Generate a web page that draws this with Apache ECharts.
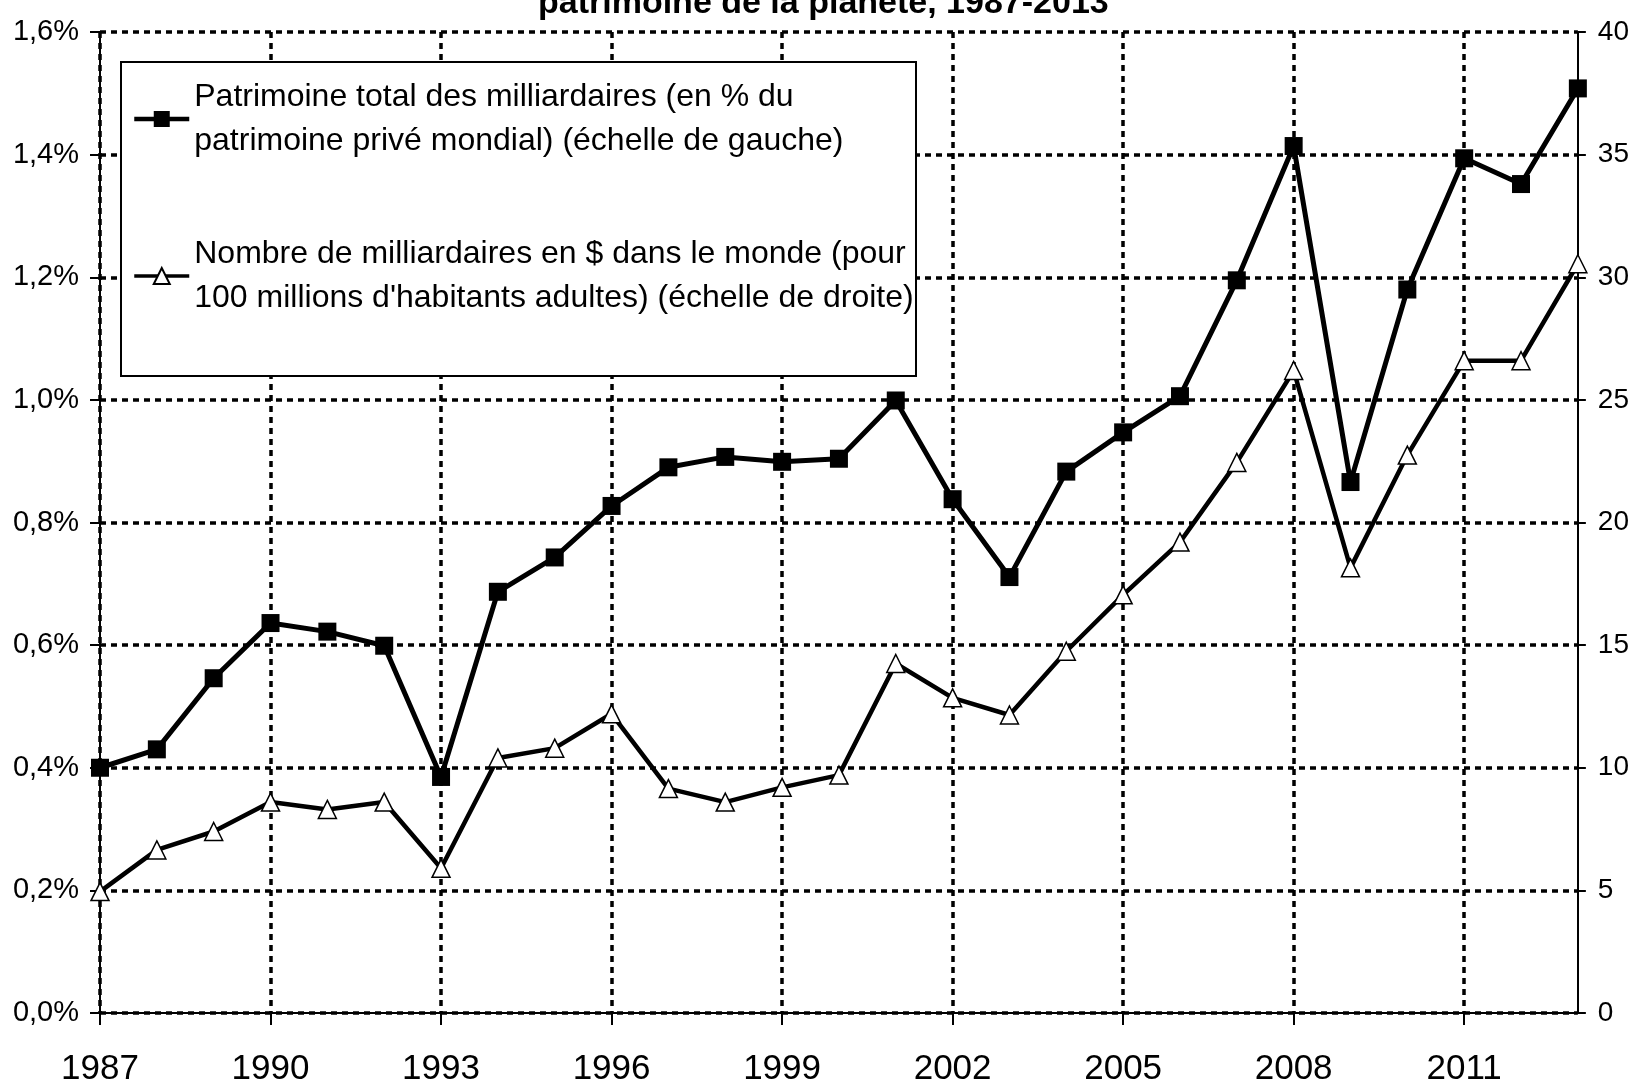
<!DOCTYPE html>
<html>
<head>
<meta charset="utf-8">
<script src="https://cdn.jsdelivr.net/npm/echarts@6/dist/echarts.min.js"></script>
<style>
html,body{margin:0;padding:0;background:#fff;}
#chart{width:1632px;height:1087px;}
</style>
</head>
<body>
<div id="chart"></div>
<script>
const FONT = "'Liberation Sans', Arial, sans-serif";

const titleText = 'patrimoine de la planète, 1987-2013';
const years = ['1987','1988','1989','1990','1991','1992','1993','1994','1995','1996','1997','1998','1999','2000',
  '2001','2002','2003','2004','2005','2006','2007','2008','2009','2010','2011','2012','2013'];
const wealthShareName = 'Patrimoine total des milliardaires (en % du\npatrimoine privé mondial) (échelle de gauche)';
const billionairesName = "Nombre de milliardaires en $ dans le monde (pour\n100 millions d'habitants adultes) (échelle de droite)";
// % of world private wealth (left axis)
const wealthShare = [0.40, 0.43, 0.546, 0.636, 0.622, 0.599, 0.385, 0.687, 0.743, 0.827, 0.890, 0.907, 0.899, 0.904,
  0.999, 0.838, 0.711, 0.883, 0.947, 1.006, 1.195, 1.414, 0.866, 1.180, 1.394, 1.352, 1.508];
// billionaires per 100 million adults (right axis)
const billionaires = [4.95, 6.65, 7.4, 8.6, 8.3, 8.6, 5.9, 10.4, 10.8, 12.2, 9.15, 8.6, 9.2, 9.7,
  14.25, 12.85, 12.15, 14.75, 17.05, 19.2, 22.45, 26.2, 18.15, 22.75, 26.6, 26.6, 30.55];
const leftTicks = {min: 0, max: 1.6, interval: 0.2};
const rightTicks = {min: 0, max: 40, interval: 5};

const chart = echarts.init(document.getElementById('chart'), null, {renderer: 'canvas'});

const gridDash = {color: '#000', width: 3.5, type: [6, 5]};

chart.setOption({
  backgroundColor: '#fff',
  animation: false,
  title: {
    text: titleText,
    left: 538,
    top: -13,
    padding: 0,
    textStyle: {fontFamily: FONT, fontWeight: 'bold', fontSize: 34, color: '#000'}
  },
  graphic: [{
    type: 'rect',
    z: 3,
    shape: {x: 121, y: 62, width: 795, height: 314},
    style: {fill: '#fff', stroke: '#000', lineWidth: 2}
  }],
  legend: {
    orient: 'vertical',
    left: 132,
    top: 53,
    padding: 0,
    itemGap: 25,
    itemWidth: 55,
    itemHeight: 20,
    selectedMode: false,
    data: [
      {name: wealthShareName, lineStyle: {width: 4.5, color: '#000'}},
      {name: billionairesName, lineStyle: {width: 3.5, color: '#000'}}
    ],
    textStyle: {fontFamily: FONT, fontSize: 32, lineHeight: 44, color: '#000', padding: [44, 0, 0, 0]}
  },
  grid: {left: 100, right: 54, top: 32, bottom: 74, containLabel: false},
  xAxis: {
    type: 'category',
    data: years,
    boundaryGap: false,
    axisLine: {show: true, lineStyle: {color: '#000', width: 2}},
    axisTick: {show: true, interval: 2, length: 12, lineStyle: {color: '#000', width: 2}},
    axisLabel: {interval: 2, margin: 39, fontFamily: FONT, fontSize: 35, color: '#000'},
    splitLine: {show: true, interval: 2, lineStyle: gridDash}
  },
  yAxis: [{
    type: 'value',
    position: 'left',
    min: leftTicks.min, max: leftTicks.max, interval: leftTicks.interval,
    axisLine: {show: true, lineStyle: {color: '#000', width: 2}},
    axisTick: {show: true, length: 10, lineStyle: {color: '#000', width: 2}},
    axisLabel: {
      margin: 21, fontFamily: FONT, fontSize: 29, color: '#000',
      formatter: v => v.toFixed(1).replace('.', ',') + '%'
    },
    splitLine: {show: true, lineStyle: gridDash}
  }, {
    type: 'value',
    position: 'right',
    min: rightTicks.min, max: rightTicks.max, interval: rightTicks.interval,
    axisLine: {show: true, lineStyle: {color: '#000', width: 2}},
    axisTick: {show: true, length: 8, lineStyle: {color: '#000', width: 2}},
    axisLabel: {margin: 20, fontFamily: FONT, fontSize: 28, color: '#000'},
    splitLine: {show: false}
  }],
  series: [{
    name: wealthShareName,
    type: 'line',
    yAxisIndex: 0,
    data: wealthShare,
    symbol: 'rect',
    symbolSize: 18,
    showAllSymbol: true,
    lineStyle: {color: '#000', width: 5},
    itemStyle: {color: '#000'},
    z: 2
  }, {
    name: billionairesName,
    type: 'line',
    yAxisIndex: 1,
    data: billionaires,
    symbol: 'triangle',
    symbolSize: 18,
    showAllSymbol: true,
    lineStyle: {color: '#000', width: 4.5},
    itemStyle: {color: '#fff', borderColor: '#000', borderWidth: 1.5},
    z: 2
  }]
});
</script>
</body>
</html>
